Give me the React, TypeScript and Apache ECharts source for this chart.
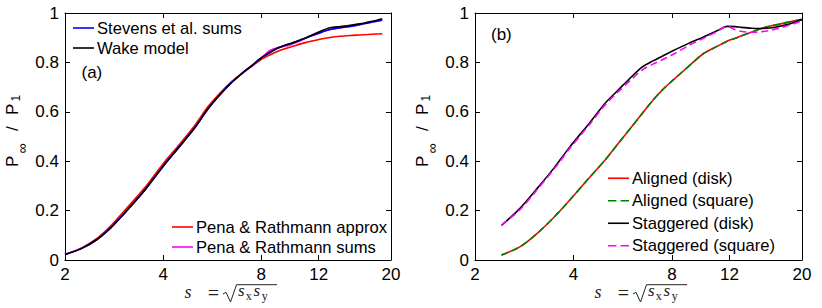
import React, { useEffect, useRef } from "react";
import * as echarts from "echarts";

// ---------- data ----------
const xTickValues = [2, 4, 8, 12, 20];
const yTickInterval = 0.2;

// Panel (a)
const sA = [2, 2.25, 2.5, 2.75, 3, 3.5, 4, 4.5, 5, 5.5, 6, 6.5, 7, 7.5, 8, 8.5, 9, 9.5, 10, 10.5, 11, 12, 13, 14, 15, 16, 17, 18, 18.8];
const stevensSums = [0.022, 0.047, 0.082, 0.128, 0.18, 0.28, 0.38, 0.461, 0.535, 0.613, 0.672, 0.72, 0.757, 0.788, 0.818, 0.84, 0.858, 0.87, 0.88, 0.89, 0.9, 0.918, 0.933, 0.94, 0.946, 0.953, 0.96, 0.967, 0.972];
const wakeModel = [0.022, 0.047, 0.082, 0.128, 0.18, 0.28, 0.38, 0.461, 0.535, 0.613, 0.672, 0.72, 0.757, 0.788, 0.818, 0.84, 0.858, 0.87, 0.88, 0.89, 0.9, 0.923, 0.94, 0.945, 0.95, 0.956, 0.963, 0.97, 0.977];
const penaApprox = [0.022, 0.049, 0.086, 0.135, 0.19, 0.29, 0.39, 0.47, 0.545, 0.622, 0.678, 0.723, 0.757, 0.785, 0.812, 0.83, 0.845, 0.856, 0.865, 0.874, 0.881, 0.893, 0.901, 0.906, 0.909, 0.911, 0.913, 0.915, 0.916];
const penaSums = [0.022, 0.047, 0.082, 0.128, 0.18, 0.28, 0.38, 0.461, 0.535, 0.613, 0.672, 0.72, 0.757, 0.788, 0.818, 0.848, 0.86, 0.866, 0.876, 0.887, 0.9, 0.918, 0.933, 0.94, 0.946, 0.953, 0.96, 0.966, 0.971];

// Panel (b)
const sB = [2.41, 2.75, 3.1, 3.5, 3.9, 4.5, 5, 5.5, 6, 6.5, 7, 7.5, 8, 9, 10, 11, 11.8, 12.5, 13, 14, 15, 16, 17, 18, 19, 20];
const alignedDisk = [0.02, 0.054, 0.108, 0.175, 0.243, 0.337, 0.405, 0.474, 0.536, 0.594, 0.647, 0.69, 0.724, 0.784, 0.836, 0.865, 0.886, 0.898, 0.907, 0.922, 0.937, 0.947, 0.954, 0.962, 0.968, 0.975];
const alignedSquare = [0.02, 0.054, 0.108, 0.175, 0.243, 0.337, 0.405, 0.474, 0.536, 0.594, 0.647, 0.69, 0.724, 0.784, 0.836, 0.865, 0.886, 0.898, 0.907, 0.922, 0.937, 0.947, 0.954, 0.962, 0.968, 0.975];
const staggeredDisk = [0.14, 0.21, 0.29, 0.375, 0.458, 0.558, 0.635, 0.69, 0.74, 0.782, 0.806, 0.826, 0.845, 0.877, 0.903, 0.928, 0.946, 0.945, 0.942, 0.938, 0.937, 0.939, 0.945, 0.953, 0.963, 0.973];
const staggeredSquare = [0.14, 0.205, 0.285, 0.37, 0.452, 0.552, 0.628, 0.683, 0.73, 0.77, 0.793, 0.812, 0.83, 0.868, 0.898, 0.925, 0.946, 0.932, 0.926, 0.922, 0.924, 0.93, 0.938, 0.948, 0.958, 0.968];

// ---------- styling ----------
const SANS = '"Liberation Sans", Arial, Helvetica, sans-serif';
const SERIF = '"Liberation Serif", "Times New Roman", serif';
const LW = 1.6;
const DASH = [7, 4];
const SOLID_ICON = "rect";
const DASH_ICON = "path://M0,0h8v2h-8zM12,0h8v2h-8z";

const toPts = (xs: number[], ys: number[]) => xs.map((s, i) => [Math.log10(s), ys[i]]);

const xLog = xTickValues.map((v) => Math.log10(v));
const xMin = Math.log10(2);
const xMax = Math.log10(20);

function xAxes(grid: number) {
  const base = {
    type: "value",
    gridIndex: grid,
    min: xMin,
    max: xMax,
    splitLine: { show: false },
    axisLine: { show: true, onZero: false, lineStyle: { color: "#000", width: 1 } },
    axisTick: { show: true, inside: true, length: 5, customValues: xLog, lineStyle: { color: "#000", width: 1 } },
  };
  return [
    {
      ...base,
      position: "bottom",
      axisLabel: {
        show: true,
        customValues: xLog,
        margin: 6,
        color: "#000",
        fontSize: 17,
        fontFamily: SANS,
        formatter: (v: number) => String(Math.round(Math.pow(10, v))),
      },
    },
    { ...base, position: "top", axisLabel: { show: false } },
  ];
}

function yAxes(grid: number) {
  const base = {
    type: "value",
    gridIndex: grid,
    min: 0,
    max: 1,
    interval: yTickInterval,
    splitLine: { show: false },
    axisLine: { show: true, onZero: false, lineStyle: { color: "#000", width: 1 } },
    axisTick: { show: true, inside: true, length: 5, lineStyle: { color: "#000", width: 1 } },
  };
  return [
    {
      ...base,
      position: "left",
      axisLabel: { show: true, margin: 6, color: "#000", fontSize: 17, fontFamily: SANS },
    },
    { ...base, position: "right", axisLabel: { show: false } },
  ];
}

function line(name: string, xs: number[], ys: number[], color: string, axis: number, dashed = false, z = 2) {
  return {
    type: "line",
    name,
    xAxisIndex: axis,
    yAxisIndex: axis,
    data: toPts(xs, ys),
    symbol: "none",
    smooth: 0.3,
    z,
    lineStyle: { color, width: LW, type: dashed ? DASH : "solid" },
    itemStyle: { color },
  };
}

function legend(items: [string, boolean][], left: number, top: number, rowH: number) {
  return {
    data: items.map(([name, dashed]) => ({ name, icon: dashed ? DASH_ICON : SOLID_ICON })),
    orient: "vertical",
    left,
    top,
    padding: 0,
    itemGap: 0,
    itemWidth: 21,
    itemHeight: 1.6,
    symbolKeepAspect: false,
    selectedMode: false,
    textStyle: { color: "#000", fontSize: 16.6, fontFamily: SANS, lineHeight: rowH, padding: [0, 0, 0, -2] },
  };
}

function yLabel(x0: number) {
  const t = (text: string, x: number, y: number, size: number) => ({
    type: "text",
    x,
    y,
    style: { text, fill: "#000", font: `${size}px ${SANS}`, align: "left", verticalAlign: "middle" },
  });
  return {
    type: "group",
    x: x0,
    y: 167,
    rotation: Math.PI / 2,
    children: [
      t("P", 0, -5.6, 17),
      t("\u221E", 13.5, 4, 14),
      t("/", 36, -5.6, 17),
      t("P", 52, -5.6, 17),
      t("1", 65.5, -2.5, 12),
    ],
  };
}

function xLabel(dx: number) {
  const t = (text: string, x: number, y: number, size: number, italic: boolean, align = "left") => ({
    type: "text",
    x: x + dx,
    y,
    style: {
      text,
      fill: "#222",
      font: `${italic ? "italic " : ""}${size}px ${SERIF}`,
      lineHeight: size * 0.75,
      align,
      verticalAlign: "middle",
    },
  });
  return [
    t("s", 184.5, 292, 18, true),
    t("=", 213.5, 292.6, 20, false, "center"),
    {
      type: "polyline",
      shape: { points: [[223 + dx, 294], [226 + dx, 292.3], [230.5 + dx, 302], [236.5 + dx, 284.7], [277 + dx, 284.7]] },
      style: { stroke: "#222", lineWidth: 1, fill: "none" },
    },
    t("s", 238, 290.5, 17, true),
    t("x", 245.8, 296, 12, false),
    t("s", 253.5, 290.5, 17, true),
    t("y", 261.8, 296, 12, false),
  ];
}

const option = {
  animation: false,
  backgroundColor: "#fff",
  grid: [
    { left: 65, top: 13, width: 326, height: 247 },
    { left: 475, top: 13, width: 327, height: 247 },
  ],
  xAxis: [...xAxes(0), ...xAxes(1)],
  yAxis: [...yAxes(0), ...yAxes(1)],
  legend: [
    legend([["Stevens et al. sums", false], ["Wake model", false]], 73, 18, 20),
    legend([["Pena & Rathmann approx", false], ["Pena & Rathmann sums", false]], 172, 217, 20),
    legend(
      [["Aligned (disk)", false], ["Aligned (square)", true], ["Staggered (disk)", false], ["Staggered (square)", true]],
      608,
      167,
      22.5
    ),
  ],
  series: [
    line("Pena & Rathmann approx", sA, penaApprox, "#ff0000", 0, false, 2),
    line("Pena & Rathmann sums", sA, penaSums, "#ff00ff", 0, false, 3),
    line("Stevens et al. sums", sA, stevensSums, "#0000ff", 0, false, 4),
    line("Wake model", sA, wakeModel, "#000000", 0, false, 5),
    line("Aligned (disk)", sB, alignedDisk, "#ff0000", 2, false, 2),
    line("Aligned (square)", sB, alignedSquare, "#008000", 2, true, 3),
    line("Staggered (disk)", sB, staggeredDisk, "#000000", 2, false, 4),
    line("Staggered (square)", sB, staggeredSquare, "#ff00ff", 2, true, 5),
  ],
  graphic: [
    yLabel(18),
    yLabel(428),
    ...xLabel(0),
    ...xLabel(410),
    { type: "text", x: 81.5, y: 72, style: { text: "(a)", fill: "#000", font: `17px ${SANS}`, align: "left", verticalAlign: "middle" } },
    { type: "text", x: 491, y: 34, style: { text: "(b)", fill: "#000", font: `17px ${SANS}`, align: "left", verticalAlign: "middle" } },
  ],
};

export default function App() {
  const ref = useRef<HTMLDivElement>(null);
  useEffect(() => {
    if (!ref.current) return;
    const chart = echarts.init(ref.current, null, { renderer: "svg" });
    chart.setOption(option as any);
    return () => chart.dispose();
  }, []);
  return <div ref={ref} style={{ position: "absolute", left: 0, top: 0, width: 822, height: 308 }} />;
}
